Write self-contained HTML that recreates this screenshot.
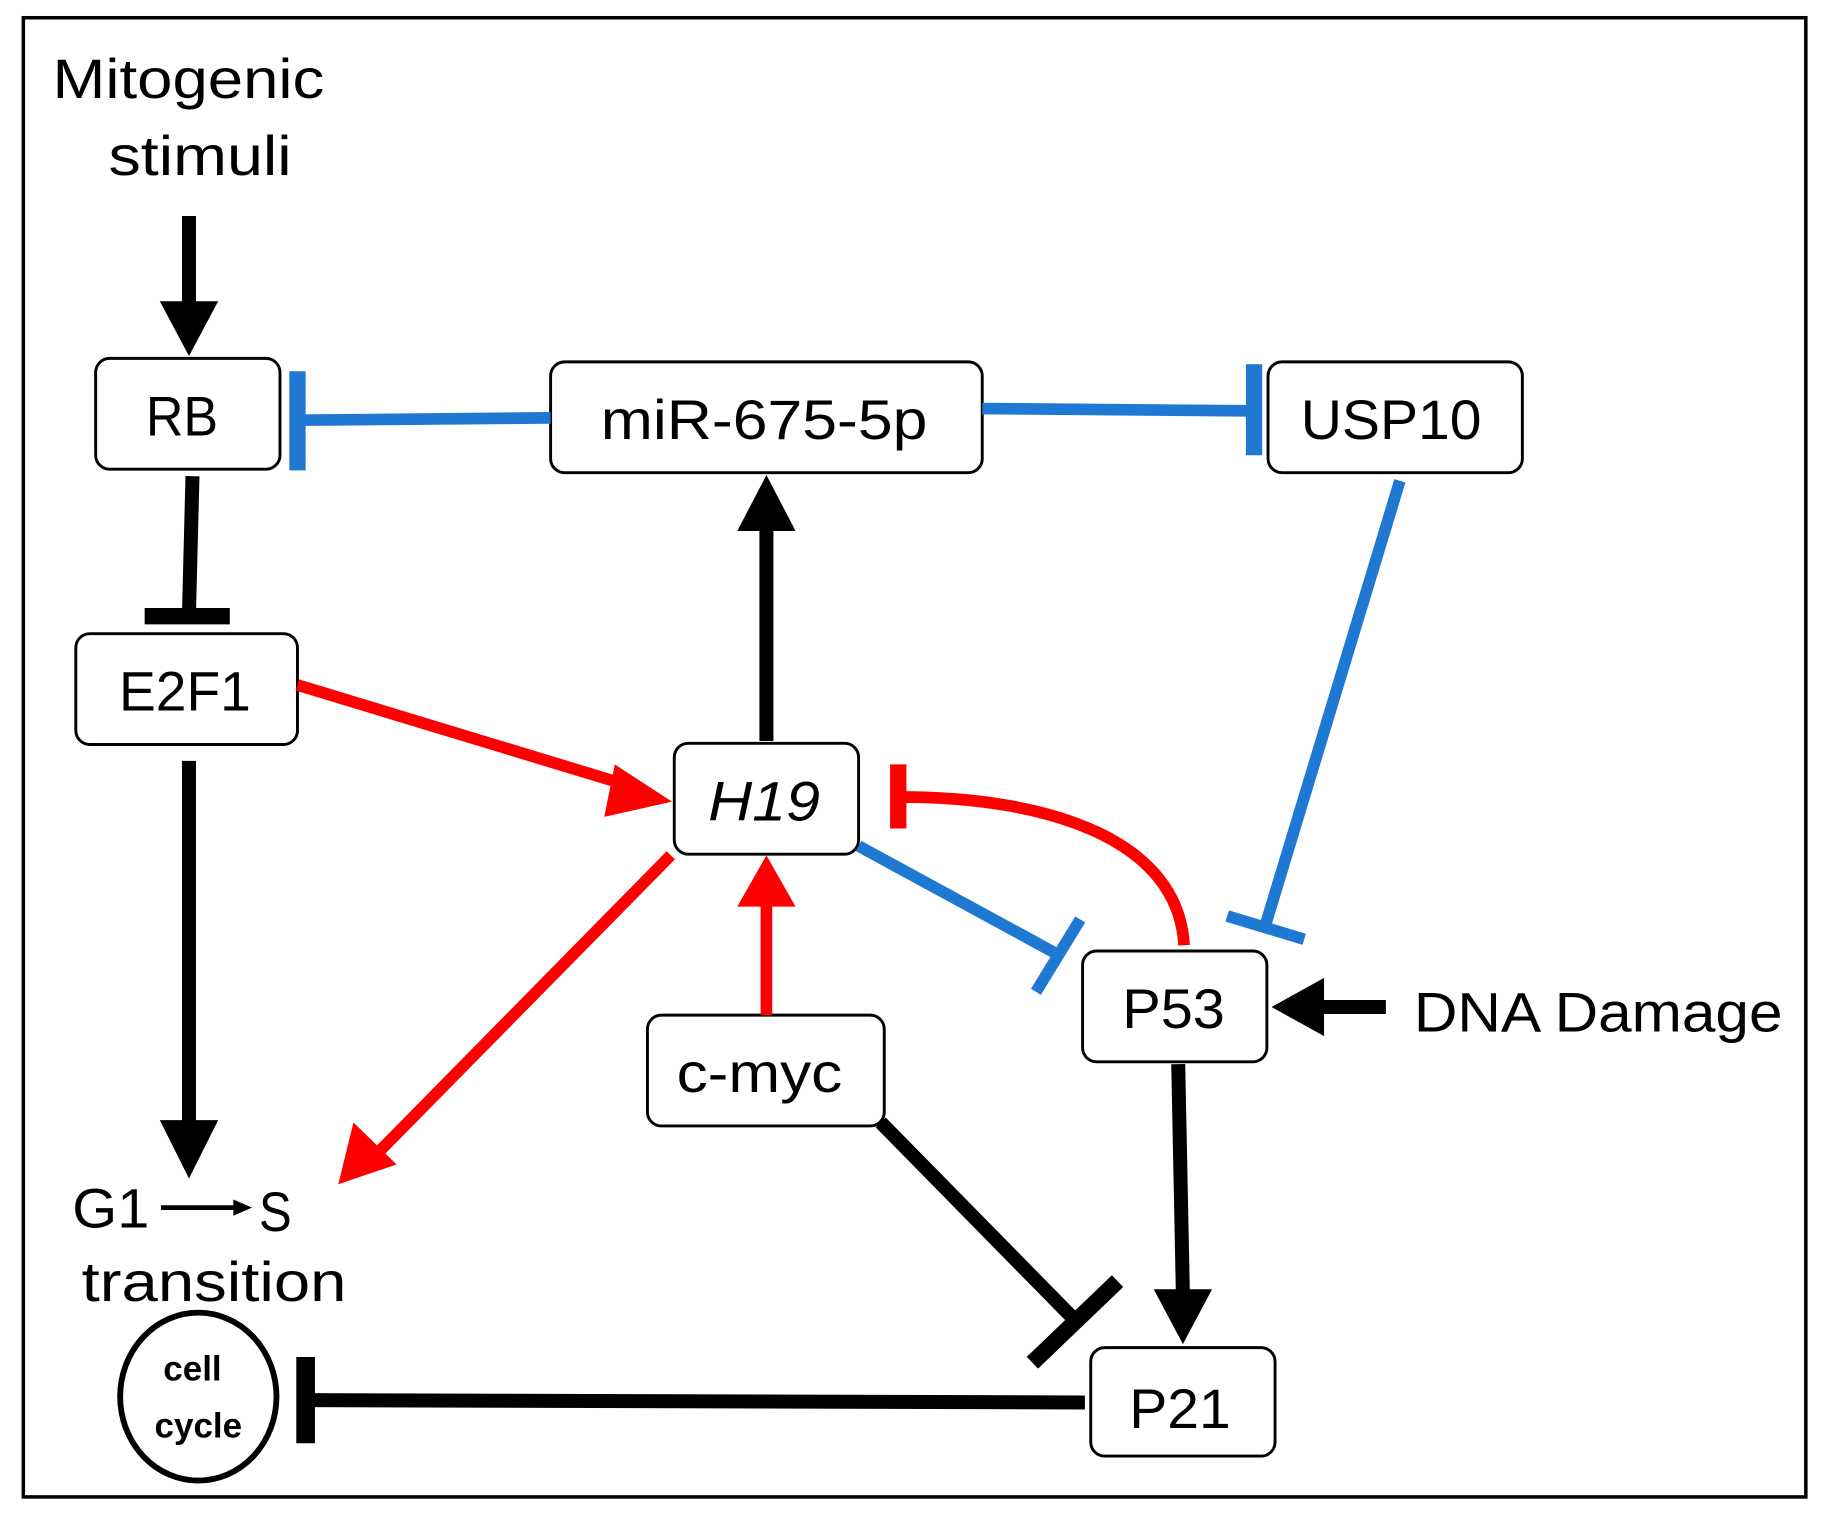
<!DOCTYPE html>
<html><head><meta charset="utf-8"><style>
html,body{margin:0;padding:0;background:#fff;}
svg{display:block;}
text{font-family:"Liberation Sans",sans-serif;fill:#000;}
</style></head><body>
<svg width="1828" height="1517" viewBox="0 0 1567 1300" xmlns="http://www.w3.org/2000/svg">
<rect x="0" y="0" width="1567" height="1300" fill="#fff"/>
<rect x="20" y="15" width="1528" height="1268" fill="none" stroke="#000" stroke-width="3"/>

<g font-size="48" lengthAdjust="spacingAndGlyphs">
<text x="45" y="84" textLength="233" lengthAdjust="spacingAndGlyphs">Mitogenic</text>
<text x="93" y="150" textLength="157" lengthAdjust="spacingAndGlyphs">stimuli</text>
</g>
<line x1="162" y1="185" x2="162" y2="265" stroke="#000" stroke-width="12"/>
<polygon points="137,258 187,258 162,305" fill="#000"/>

<!-- boxes -->
<g fill="#fff" stroke="#000" stroke-width="2.5">
<rect x="82" y="307" width="158" height="95" rx="12"/>
<rect x="472" y="310" width="370" height="95" rx="12"/>
<rect x="1087" y="310" width="218" height="95" rx="12"/>
<rect x="65" y="543" width="190" height="95" rx="12"/>
<rect x="578" y="637" width="158" height="95" rx="12"/>
<rect x="555" y="870" width="203" height="95" rx="12"/>
<rect x="928" y="815" width="158" height="95" rx="12"/>
<rect x="935" y="1155" width="158" height="93" rx="12"/>
</g>
<g font-size="48">
<text x="125" y="373" textLength="62" lengthAdjust="spacingAndGlyphs">RB</text>
<text x="515" y="376" textLength="280" lengthAdjust="spacingAndGlyphs">miR-675-5p</text>
<text x="1115" y="376" textLength="155" lengthAdjust="spacingAndGlyphs">USP10</text>
<text x="102" y="609" textLength="113" lengthAdjust="spacingAndGlyphs">E2F1</text>
<text x="607" y="703" font-style="italic" textLength="96" lengthAdjust="spacingAndGlyphs">H19</text>
<text x="580" y="936" textLength="142" lengthAdjust="spacingAndGlyphs">c-myc</text>
<text x="962" y="881" textLength="88" lengthAdjust="spacingAndGlyphs">P53</text>
<text x="968" y="1224" textLength="87" lengthAdjust="spacingAndGlyphs">P21</text>
</g>

<!-- blue inhibitions -->
<g stroke="#1f78d1" stroke-width="10" fill="none">
<line x1="472" y1="358" x2="255" y2="360"/>
<line x1="255" y1="318" x2="255" y2="403" stroke-width="14"/>
<line x1="842" y1="350" x2="1075" y2="352"/>
<line x1="1075" y1="312" x2="1075" y2="390" stroke-width="14"/>
<line x1="736" y1="725" x2="905" y2="817"/>
<line x1="888" y1="850" x2="926" y2="788" stroke-width="10"/>
<line x1="1200" y1="412" x2="1085" y2="792"/>
<line x1="1052" y1="785" x2="1118" y2="805" stroke-width="10"/>
</g>

<!-- black -->
<g stroke="#000" stroke-width="12" fill="none">
<line x1="165" y1="408" x2="162" y2="525"/>
<line x1="124" y1="528" x2="197" y2="528" stroke-width="14"/>
<line x1="657" y1="635" x2="657" y2="450"/>
<line x1="162" y1="652" x2="162" y2="962"/>
<line x1="930" y1="1202" x2="262" y2="1200"/>
<line x1="262" y1="1163" x2="262" y2="1237" stroke-width="16"/>
<line x1="1188" y1="863" x2="1130" y2="863"/>
<line x1="1010" y1="912" x2="1014" y2="1110"/>
<line x1="755" y1="962" x2="922" y2="1132"/>
<line x1="885" y1="1168" x2="958" y2="1098" stroke-width="14"/>
</g>
<polygon points="632,455 682,455 657,407" fill="#000"/>
<polygon points="137,960 187,960 162,1010" fill="#000"/>
<polygon points="1135,838 1135,888 1090,863" fill="#000"/>
<polygon points="989,1105 1039,1105 1014,1152" fill="#000"/>
<line x1="138" y1="1035" x2="205" y2="1035" stroke="#000" stroke-width="4"/>
<polygon points="200,1028 200,1042 216,1035" fill="#000"/>

<text x="62" y="1052" font-size="48" textLength="66" lengthAdjust="spacingAndGlyphs">G1</text>
<text x="222" y="1055" font-size="48" textLength="28" lengthAdjust="spacingAndGlyphs">S</text>
<text x="70" y="1115" font-size="48" textLength="227" lengthAdjust="spacingAndGlyphs">transition</text>

<ellipse cx="170" cy="1197" rx="67" ry="72" fill="none" stroke="#000" stroke-width="5"/>
<text x="165" y="1183" font-size="30" font-weight="bold" text-anchor="middle">cell</text>
<text x="170" y="1232" font-size="30" font-weight="bold" text-anchor="middle">cycle</text>

<!-- red -->
<g stroke="#ff0000" stroke-width="10" fill="none">
<line x1="255" y1="587" x2="545" y2="675"/>
<line x1="657" y1="870" x2="657" y2="775"/>
<line x1="575" y1="733" x2="322" y2="990"/>
<path d="M1015,810 C1010,720 900,683 772,683"/>
<line x1="770" y1="655" x2="770" y2="710" stroke-width="14"/>
</g>
<polygon points="527,655 518,700 576,687" fill="#ff0000"/>
<polygon points="632,777 682,777 657,733" fill="#ff0000"/>
<polygon points="303,962 340,998 290,1015" fill="#ff0000"/>

<text x="1212" y="884" font-size="48" textLength="316" lengthAdjust="spacingAndGlyphs">DNA Damage</text>
</svg>
</body></html>
